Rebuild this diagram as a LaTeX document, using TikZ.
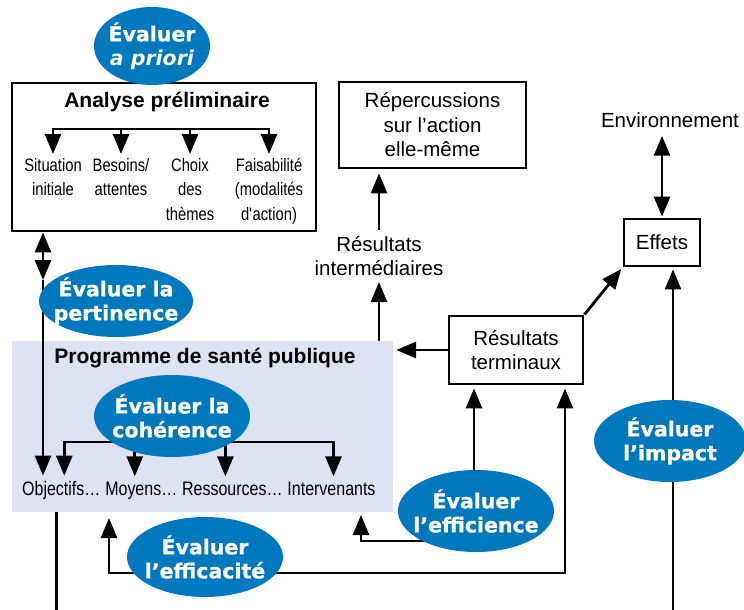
\documentclass[tikz,border=0pt]{standalone}
\usepackage{fontspec}
\setmainfont{Liberation Sans}
\newfontfamily\narrowfont[FakeStretch=0.82]{Liberation Sans}
\newfontfamily\bubblefont[BoldFeatures={FakeBold=1}]{DejaVu Sans}
\usetikzlibrary{shapes.geometric,arrows.meta,positioning}
\definecolor{evalblue}{RGB}{0,120,190}
\definecolor{progfill}{RGB}{221,227,242}
\pgfdeclarelayer{background}
\pgfdeclarelayer{foreground}
\pgfsetlayers{background,main,foreground}

\begin{document}
\begin{tikzpicture}[x=1pt, y=-1pt,
    bubble/.style={ellipse, fill=evalblue, inner sep=0pt},
    bubbletext/.style={text=white, align=center, inner sep=0pt, font=\bubblefont\bfseries\fontsize{20.5}{24}\selectfont},
    framebox/.style={draw, line width=2.8pt, inner sep=0pt},
    plaintext/.style={align=center, inner sep=0pt, font=\fontsize{20.5}{24.5}\selectfont},
    narrowtext/.style={align=center, inner sep=0pt, font=\narrowfont\fontsize{18}{24.5}\selectfont},
    rowtext/.style={inner sep=0pt, font=\narrowfont\fontsize{19.5}{24}\selectfont},
    headtext/.style={inner sep=0pt, font=\bfseries\fontsize{21}{25}\selectfont},
    conn/.style={line width=2.8pt},
    arr/.style={conn, -{Triangle[length=20pt,width=16pt]}},
    arrboth/.style={conn, {Triangle[length=20pt,width=16pt]}-{Triangle[length=20pt,width=16pt]}}]

\useasboundingbox (0,0) rectangle (744,610);

\node[framebox, minimum width=304pt, minimum height=148pt] (analyse) at (164,157) {};
\node[headtext] (analyseT) at (167,102) {Analyse préliminaire};
\node[narrowtext, anchor=north] (situation) at (53,158) {Situation\\initiale};
\node[narrowtext, anchor=north] (besoins) at (121,158) {Besoins/\\attentes};
\node[narrowtext, anchor=north] (choix) at (190,158) {Choix\\des\\thèmes};
\node[narrowtext, anchor=north] (faisab) at (269,158) {Faisabilité\\(modalités\\d\textquotesingle action)};
\coordinate (analyseBus) at (0,129);
\draw[conn, line cap=rect] (situation.north |- analyseBus) -- (faisab.north |- analyseBus);
\foreach \n in {situation,besoins,choix,faisab}
  \draw[arr, shorten >=4pt] (\n.north |- analyseBus) -- (\n.north);

\begin{pgfonlayer}{background}
  \node[fill=progfill, minimum width=381pt, minimum height=171pt, inner sep=0pt] (programme) at (202.5,426.5) {};
\end{pgfonlayer}
\node[headtext] (programmeT) at (205,358) {Programme de santé publique};
\node[rowtext, anchor=base west] (objectifs) at (22,495) {Objectifs…};
\node[rowtext, base right=4.5pt of objectifs] (moyens) {Moyens…};
\node[rowtext, base right=4.5pt of moyens] (ressources) {Ressources…};
\node[rowtext, base right=4.5pt of ressources] (intervenants) {Intervenants};
\coordinate (cohBus) at (0,442);
\draw[conn, line cap=rect] ([xshift=3pt]objectifs.north |- cohBus) -- ([xshift=2pt]intervenants.north |- cohBus);
\foreach \n/\s in {objectifs/3,moyens/-6.5,ressources/-7,intervenants/2}
  \draw[arr, shorten >=5pt] ([xshift=\s pt]\n.north |- cohBus) -- ([xshift=\s pt]\n.north);

\coordinate (pertArrow) at (43,280);
\draw[arrboth] (analyse.south -| pertArrow) -- (pertArrow);
\draw[arr, shorten >=5pt] (pertArrow) -- (pertArrow |- objectifs.north);

\node[framebox, plaintext, minimum width=187pt, minimum height=86pt] (repercussions) at (432.5,125) {Répercussions\\sur l’action\\elle-même};
\node[plaintext] (interm) at (379,256) {Résultats\\intermédiaires};
\node[framebox, plaintext, minimum width=134pt, minimum height=68pt] (terminaux) at (516,350) {Résultats\\terminaux};
\node[plaintext] (environnement) at (670,120) {Environnement};
\node[framebox, plaintext, minimum width=76pt, minimum height=47pt] (effets) at (662,242.5) {Effets};

\draw[arr, shorten <=6pt, shorten >=4pt] (interm.north) -- (interm.north |- repercussions.south);
\draw[arr, shorten >=6pt] (programme.north -| interm.south) -- (interm.south);
\draw[arr, shorten >=3pt] (terminaux.west) -- (terminaux.west -| programme.east);
\draw[arr, shorten >=2pt] (terminaux.north east) -- (effets.south west);
\draw[arrboth, shorten <=8pt, shorten >=1pt] (environnement.south -| effets.north) -- (effets.north);
\draw[arr, shorten >=2pt] ([xshift=45pt]programme.south west) -- ++(0,98.8) -| ([xshift=11pt]effets.south);

\coordinate (efficaTip) at (109,518);
\coordinate (efficaLow) at (0,573);
\draw[arrboth, shorten >=3pt] (efficaTip) -- (efficaTip |- efficaLow) -| ([xshift=49pt]terminaux.south);
\coordinate (efficienceTip) at (361,515);

\begin{pgfonlayer}{foreground}
  \node[bubble, minimum width=116pt, minimum height=78pt] (apriori) at (152,46) {};
  \node[bubbletext] (aprioriT) at (apriori) {Évaluer\\\textit{a priori}};
  \node[bubble, minimum width=154pt, minimum height=72pt] (pertinence) at (116,301) {};
  \node[bubbletext] (pertinenceT) at (pertinence) {Évaluer la\\pertinence};
  \node[bubble, minimum width=156pt, minimum height=82pt] (coherence) at (172,416) {};
  \node[bubbletext] (coherenceT) at (coherence) {Évaluer la\\cohérence};
  \node[bubble, minimum width=156pt, minimum height=80pt] (efficacite) at (205,557) {};
  \node[bubbletext] (efficaciteT) at (efficacite) {Évaluer\\l’efficacité};
  \node[bubble, minimum width=156pt, minimum height=82pt] (efficience) at (476,511) {};
  \node[bubbletext] (efficienceT) at (efficience) {Évaluer\\l’efficience};
  \node[bubble, minimum width=152pt, minimum height=82pt] (impact) at (670,441) {};
  \node[bubbletext] (impactT) at (impact) {Évaluer\\l’impact};
\end{pgfonlayer}

\draw[arr] ([yshift=-30pt]efficience.center) -| (efficienceTip);
\draw[arr, shorten >=3pt] ([xshift=-2pt]efficience.center) -- ([xshift=-2pt]efficience.center |- terminaux.south);

\end{tikzpicture}
\end{document}
